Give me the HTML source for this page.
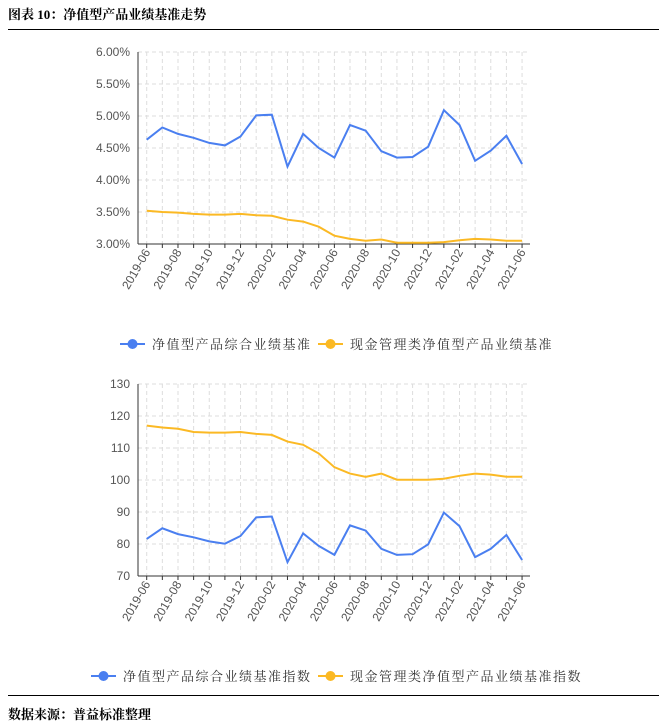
<!DOCTYPE html>
<html><head><meta charset="utf-8">
<style>
body{margin:0;background:#fff;width:666px;height:723px;overflow:hidden;position:relative;font-family:"Liberation Sans","Noto Sans CJK SC",sans-serif}
.t{position:absolute;left:8px;font-weight:bold;font-size:13px;color:#000;font-family:"Liberation Serif","Noto Serif CJK SC",serif}
.hr{position:absolute;left:8px;width:651px;height:1px;background:#000}
svg{position:absolute;left:0;top:0}
</style></head><body>
<div class="t" style="top:4px">图表 10：净值型产品业绩基准走势</div>
<div class="hr" style="top:29px"></div>
<div class="hr" style="top:695px"></div>
<div class="t" style="top:704px">数据来源：普益标准整理</div>
<svg id="s" width="666" height="723" xmlns="http://www.w3.org/2000/svg"></svg>
<script>
var S=document.getElementById('s'),h='';
var x0=146.7,dx=15.64,L=138,R=530;
var labs=['2019-06','2019-08','2019-10','2019-12','2020-02','2020-04','2020-06','2020-08','2020-10','2020-12','2021-02','2021-04','2021-06'];
function chart(top,bot,min,max,step,fmt,a,b){
 var n=Math.round((max-min)/step);
 function Y(v){return bot-(v-min)/(max-min)*(bot-top);}
 for(var i=0;i<=n;i++){var y=top+(bot-top)*i/n;
  if(i<n)h+='<line x1="'+L+'" x2="'+R+'" y1="'+y+'" y2="'+y+'" stroke="#ddd" stroke-dasharray="4,3"/>';
  h+='<text x="'+(L-8)+'" y="'+(y+4)+'" font-size="12" fill="#555" text-anchor="end">'+fmt(max-i*step)+'</text>';}
 for(var k=0;k<25;k++){var x=x0+k*dx;
  h+='<line x1="'+x+'" x2="'+x+'" y1="'+top+'" y2="'+bot+'" stroke="#ddd" stroke-dasharray="4,3"/>';
  h+='<line x1="'+x+'" x2="'+x+'" y1="'+bot+'" y2="'+(bot+4)+'" stroke="#333"/>';}
 h+='<line x1="'+L+'" x2="'+L+'" y1="'+top+'" y2="'+bot+'" stroke="#333"/>';
 h+='<line x1="'+L+'" x2="'+R+'" y1="'+bot+'" y2="'+bot+'" stroke="#333"/>';
 for(var j=0;j<13;j++){var x=x0+j*2*dx;
  h+='<text transform="translate('+(x+4)+','+(bot+8)+') rotate(-60)" font-size="12" fill="#555" text-anchor="end">'+labs[j]+'</text>';}
 [[a,'#4a7ff0'],[b,'#fbb924']].forEach(function(s){
  h+='<polyline fill="none" stroke="'+s[1]+'" stroke-width="2" points="'+s[0].map(function(v,i){return (x0+i*dx).toFixed(1)+','+Y(v).toFixed(1)}).join(' ')+'"/>';});
}
chart(52,244,3,6,0.5,function(v){return v.toFixed(2)+'%'},
[4.63,4.82,4.72,4.66,4.58,4.54,4.68,5.01,5.02,4.21,4.72,4.50,4.35,4.86,4.77,4.45,4.35,4.36,4.52,5.09,4.86,4.30,4.46,4.69,4.25],
[3.52,3.50,3.49,3.47,3.46,3.46,3.47,3.45,3.44,3.38,3.35,3.27,3.13,3.08,3.05,3.07,3.02,3.02,3.02,3.03,3.06,3.08,3.07,3.05,3.05]);
chart(384,576,70,130,10,function(v){return Math.round(v)},
[81.6,84.9,83.1,82.1,80.8,80.1,82.5,88.3,88.6,74.3,83.3,79.4,76.6,85.8,84.2,78.5,76.6,76.8,79.9,89.8,85.6,75.9,78.5,82.8,75.0],
[117,116.4,116,115,114.8,114.8,115,114.4,114.1,112,111,108.3,104,102,101,102,100.1,100.1,100.1,100.4,101.3,102,101.7,101,101]);
function leg(y,x1,t1,x2,t2){
 [[x1,t1,'#4a7ff0'],[x2,t2,'#fbb924']].forEach(function(l){
  h+='<line x1="'+l[0]+'" x2="'+(l[0]+25)+'" y1="'+y+'" y2="'+y+'" stroke="'+l[2]+'" stroke-width="2"/>';
  h+='<circle cx="'+(l[0]+12.5)+'" cy="'+y+'" r="5" fill="'+l[2]+'"/>';
  h+='<text x="'+(l[0]+32)+'" y="'+(y+5)+'" font-size="13" fill="#333" font-family="Noto Serif CJK SC,serif" letter-spacing="1.5">'+l[1]+'</text>';});
}
leg(344,120,'净值型产品综合业绩基准',318,'现金管理类净值型产品业绩基准');
leg(676,91,'净值型产品综合业绩基准指数',318,'现金管理类净值型产品业绩基准指数');
S.innerHTML=h;
</script>
</body></html>
